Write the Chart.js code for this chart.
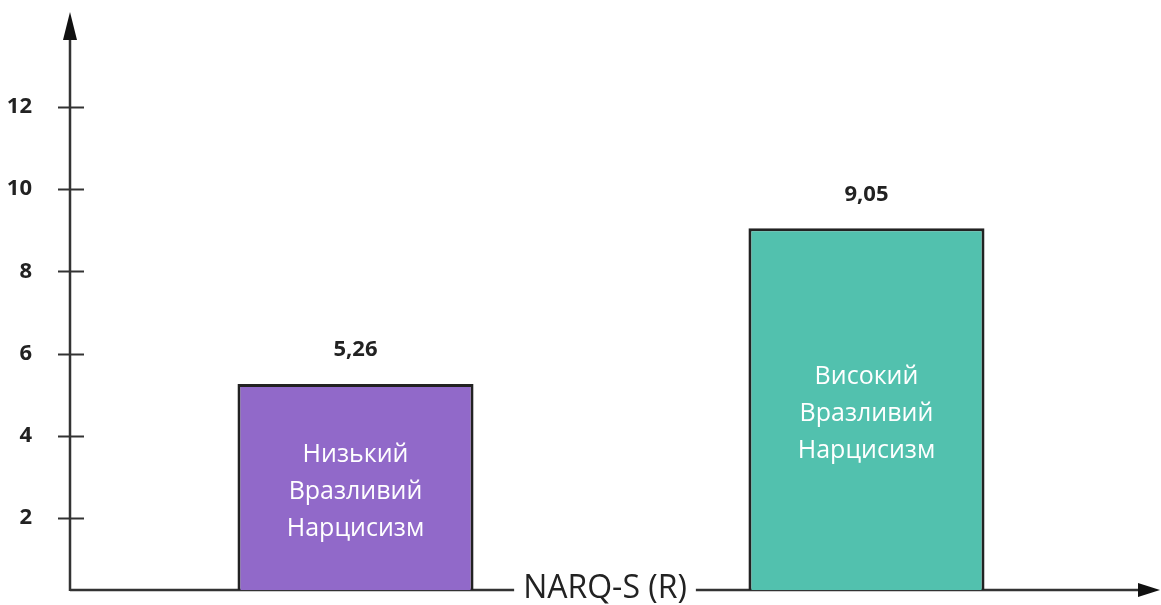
<!DOCTYPE html>
<html>
<head>
<meta charset="utf-8">
<script src="https://cdn.jsdelivr.net/npm/chart.js@4"></script>
<style>
  html, body { margin: 0; padding: 0; background: #fff; overflow: hidden; }
  #narqChart { display: block; }
</style>
</head>
<body>
<canvas id="narqChart" width="1161" height="605"></canvas>
<script>
// values
const scaleName = ['NARQ-S (R)'];
const groupNames = [
  ['Низький', 'Вразливий', 'Нарцисизм'],
  ['Високий', 'Вразливий', 'Нарцисизм']
];
const meanValues = [5.26, 9.05];
const valueLabels = ['5,26', '9,05'];
const yTicks = [2, 4, 6, 8, 10, 12];
const barColors = ['#9169C9', '#52C1AE'];

const axisColor = '#333333';

// axes with arrows, ticks crossing the y axis, and the axis name sitting on the x axis
const axesPlugin = {
  id: 'arrowAxes',
  beforeDraw(chart) {
    const ctx = chart.ctx;
    const area = chart.chartArea;
    const yScale = chart.scales.y;
    const xScale = chart.scales.x;
    ctx.save();
    ctx.strokeStyle = axisColor;
    ctx.fillStyle = '#111';
    ctx.lineWidth = 2.5;

    // y axis
    ctx.beginPath();
    ctx.moveTo(area.left, area.bottom + 1);
    ctx.lineTo(area.left, area.top);
    ctx.stroke();
    ctx.beginPath();
    ctx.moveTo(area.left, area.top - 28);
    ctx.lineTo(area.left - 7, area.top);
    ctx.lineTo(area.left + 7, area.top);
    ctx.closePath();
    ctx.fill();

    // x axis, with a gap for the name
    ctx.font = '32px "Open Sans"';
    const nameX = xScale.getPixelForValue(0) - 6;
    const half = ctx.measureText(scaleName[0]).width / 2 + 9;
    const lineEnd = area.right - 12;
    ctx.beginPath();
    ctx.moveTo(area.left, area.bottom);
    ctx.lineTo(nameX - half, area.bottom);
    ctx.moveTo(nameX + half, area.bottom);
    ctx.lineTo(lineEnd, area.bottom);
    ctx.stroke();
    ctx.beginPath();
    ctx.moveTo(lineEnd + 20, area.bottom);
    ctx.lineTo(lineEnd - 2, area.bottom - 7);
    ctx.lineTo(lineEnd - 2, area.bottom + 7);
    ctx.closePath();
    ctx.fill();

    ctx.fillStyle = '#222';
    ctx.textAlign = 'center';
    ctx.textBaseline = 'middle';
    ctx.fillText(scaleName[0], nameX, area.bottom - 1);

    // tick marks
    ctx.lineWidth = 2;
    yTicks.forEach(v => {
      const py = Math.round(yScale.getPixelForValue(v)) + 0.5;
      ctx.beginPath();
      ctx.moveTo(area.left - 12, py);
      ctx.lineTo(area.left + 14, py);
      ctx.stroke();
    });
    ctx.restore();
  },
  afterDatasetsDraw(chart) {
    const ctx = chart.ctx;
    ctx.save();
    ctx.textAlign = 'center';
    ctx.textBaseline = 'middle';
    chart.data.datasets.forEach((ds, i) => {
      const bar = chart.getDatasetMeta(i).data[0];
      // value above the bar
      ctx.fillStyle = '#222';
      ctx.font = 'bold 22px "Open Sans"';
      ctx.fillText(valueLabels[i], bar.x, bar.y - 34);
      // group name inside the bar
      ctx.fillStyle = '#ffffff';
      ctx.font = '25px "Open Sans"';
      const mid = (bar.y + bar.base) / 2;
      const lines = groupNames[i];
      lines.forEach((line, k) => {
        ctx.fillText(line, bar.x, mid + (k - (lines.length - 1) / 2) * 37);
      });
    });
    ctx.restore();
  }
};

const ctx = document.getElementById('narqChart').getContext('2d');
const myChart = new Chart(ctx, {
  type: 'bar',
  data: {
    labels: scaleName,
    datasets: groupNames.map((name, i) => ({
      label: name.join(' '),
      data: [meanValues[i]],
      backgroundColor: barColors[i],
      borderColor: '#222222',
      borderWidth: 3,
      borderSkipped: false
    }))
  },
  options: {
    responsive: false,
    animation: false,
    layout: { padding: { top: 40, right: 9, left: 0, bottom: 15 } },
    datasets: {
      bar: { categoryPercentage: 0.9445, barPercentage: 0.462 }
    },
    scales: {
      x: {
        display: false
      },
      y: {
        min: 0.25,
        max: 13.63,
        grid: { display: false, drawTicks: false },
        border: { display: false },
        afterBuildTicks: scale => {
          scale.ticks = yTicks.map(v => ({ value: v }));
        },
        ticks: {
          padding: 38,
          color: '#222',
          font: { family: 'Open Sans', size: 22, weight: 'bold' }
        },
        afterFit: scale => {
          scale.width = 70;
          scale.paddingTop = 0;
          scale.paddingBottom = 0;
        }
      }
    },
    plugins: {
      legend: { display: false },
      tooltip: { enabled: false }
    }
  },
  plugins: [axesPlugin]
});
</script>
</body>
</html>
